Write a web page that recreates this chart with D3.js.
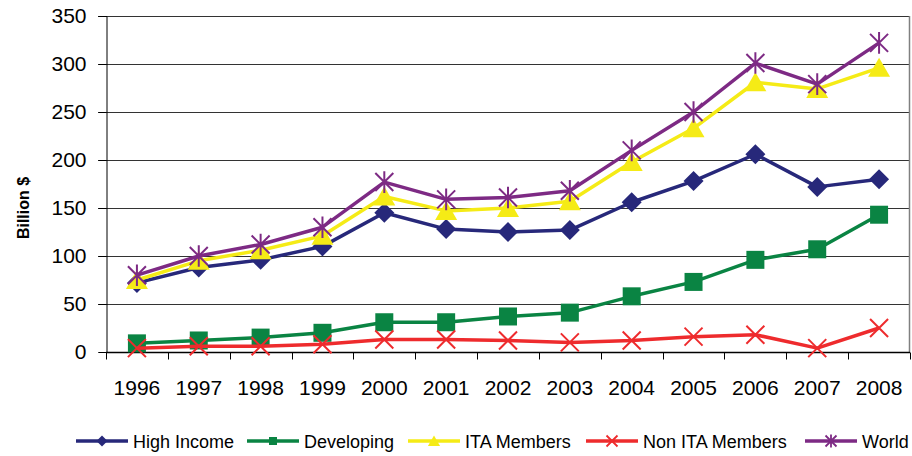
<!DOCTYPE html>
<html>
<head>
<meta charset="utf-8">
<script src="https://cdn.jsdelivr.net/npm/d3@7"></script>
<style>
  body { margin: 0; background: #fff; }
  text { font-family: "Liberation Sans", Arial, sans-serif; fill: #000; }
</style>
</head>
<body>
<svg id="chart" width="912" height="456"></svg>
<script>
// chart data
const years = ["1996", "1997", "1998", "1999", "2000", "2001", "2002", "2003", "2004", "2005", "2006", "2007", "2008"];
const highIncome = [72, 88, 96, 110, 145, 128, 125, 127, 156, 178, 206, 172, 180];
const developing = [9, 12, 15, 20, 31, 31, 37, 41, 58, 73, 96, 107, 143];
const itaMembers = [75, 95, 106, 121, 162, 147, 150, 157, 198, 233, 281, 274, 296];
const nonItaMembers = [4, 6, 6, 8, 13, 13, 12, 10, 12, 16, 18, 4, 25];
const world = [80, 100, 112, 130, 177, 159, 161, 168, 210, 250, 301, 279, 322];
const yTicks = [0, 50, 100, 150, 200, 250, 300, 350];

const series = [
    { name: "High Income", values: highIncome, color: "#27287a", marker: "diamond" },
    { name: "Developing", values: developing, color: "#0a8443", marker: "square" },
    { name: "ITA Members", values: itaMembers, color: "#f5eb16", marker: "triangle" },
    { name: "Non ITA Members", values: nonItaMembers, color: "#ee2b2d", marker: "cross" },
    { name: "World", values: world, color: "#7d2a84", marker: "star" }
];

const margin = { top: 16, right: 2, bottom: 104, left: 106 },
      width = 912 - margin.left - margin.right,
      height = 456 - margin.top - margin.bottom;

const svg = d3.select("#chart")
    .append("g")
    .attr("transform", `translate(${margin.left},${margin.top})`);

const x = d3.scaleBand()
    .domain(years)
    .range([0, width]);

const y = d3.scaleLinear()
    .domain([0, 350])
    .range([height, 0]);

// gridlines
svg.append("g")
    .selectAll("line")
    .data(yTicks.filter(d => d > 0))
    .join("line")
    .attr("x1", -8)
    .attr("x2", width)
    .attr("y1", d => Math.round(y(d)) + 0.5)
    .attr("y2", d => Math.round(y(d)) + 0.5)
    .style("stroke", "#333")
    .style("stroke-width", 1);

// right border
svg.append("line")
    .attr("x1", width - 0.5).attr("x2", width - 0.5)
    .attr("y1", 0).attr("y2", height)
    .style("stroke", "#808080")
    .style("stroke-width", 1.5);

// y axis
const yAxis = svg.append("g")
    .attr("transform", "translate(0.5,0)")
    .call(d3.axisLeft(y).tickValues(yTicks).tickSize(8).tickPadding(12));
yAxis.select(".domain").style("stroke", "#000");
yAxis.selectAll("line").style("stroke", "#000");
yAxis.selectAll("text")
    .style("font-size", "21px");

// x axis with ticks between categories
const xAxis = svg.append("g")
    .attr("transform", `translate(0,${Math.round(height) + 0.5})`);
xAxis.append("line")
    .attr("x1", 0).attr("x2", width)
    .style("stroke", "#000")
    .style("stroke-width", 1.5);
xAxis.selectAll(".tick")
    .data(d3.range(years.length + 1))
    .join("line")
    .attr("x1", i => Math.round(i * x.step()) + 0.5)
    .attr("x2", i => Math.round(i * x.step()) + 0.5)
    .attr("y1", 0)
    .attr("y2", 7)
    .style("stroke", "#000");
xAxis.selectAll(".label")
    .data(years)
    .join("text")
    .attr("x", d => x(d) + x.bandwidth() / 2)
    .attr("y", 42)
    .attr("text-anchor", "middle")
    .style("font-size", "21px")
    .text(d => d);

// y axis label
svg.append("text")
    .attr("transform", "rotate(-90)")
    .attr("x", -192)
    .attr("y", -margin.left + 29)
    .style("text-anchor", "middle")
    .style("font-size", "16px")
    .style("font-weight", "bold")
    .text("Billion $");

// marker shapes
function markerPath(type, s) {
    if (type === "diamond") return `M0,${-s}L${s},0L0,${s}L${-s},0Z`;
    if (type === "square") return `M${-s},${-s}H${s}V${s}H${-s}Z`;
    if (type === "triangle") return `M0,${-s}L${s * 1.1},${s * 0.9}L${-s * 1.1},${s * 0.9}Z`;
    if (type === "cross") return `M${-s},${-s}L${s},${s}M${s},${-s}L${-s},${s}`;
    return `M${-s},${-s}L${s},${s}M${s},${-s}L${-s},${s}M0,${-s * 1.2}V${s * 1.2}`;
}
const markerSize = { diamond: 10, square: 9, triangle: 10, cross: 9, star: 9 };

const line = d3.line()
    .x((d, i) => x(years[i]) + x.bandwidth() / 2)
    .y(d => y(d));

series.forEach(s => {
    const g = svg.append("g");
    g.append("path")
        .datum(s.values)
        .attr("d", line)
        .style("fill", "none")
        .style("stroke", s.color)
        .style("stroke-width", 3.5)
        .style("stroke-linejoin", "round");

    const filled = s.marker === "diamond" || s.marker === "square" || s.marker === "triangle";
    g.selectAll(".mark")
        .data(s.values)
        .join("path")
        .attr("transform", (d, i) => `translate(${x(years[i]) + x.bandwidth() / 2},${y(d)})`)
        .attr("d", markerPath(s.marker, markerSize[s.marker]))
        .style("fill", filled ? s.color : "none")
        .style("stroke", s.color)
        .style("stroke-width", filled ? 0 : 2);
});

// legend
const legendX = [76, 247, 408, 586, 805];
const legend = d3.select("#chart").append("g")
    .attr("transform", "translate(0,441)");
series.forEach((s, i) => {
    const g = legend.append("g").attr("transform", `translate(${legendX[i]},0)`);
    g.append("line")
        .attr("x1", 0).attr("x2", 52)
        .style("stroke", s.color)
        .style("stroke-width", 3.5);
    const filled = s.marker === "diamond" || s.marker === "square" || s.marker === "triangle";
    g.append("path")
        .attr("transform", "translate(26,0)")
        .attr("d", markerPath(s.marker, s.marker === "square" ? 4 : 5.5))
        .style("fill", filled ? s.color : "none")
        .style("stroke", s.color)
        .style("stroke-width", filled ? 0 : 1.8);
    g.append("text")
        .attr("x", 57)
        .attr("y", 7)
        .style("font-size", "18px")
        .text(s.name);
});
</script>
</body>
</html>
